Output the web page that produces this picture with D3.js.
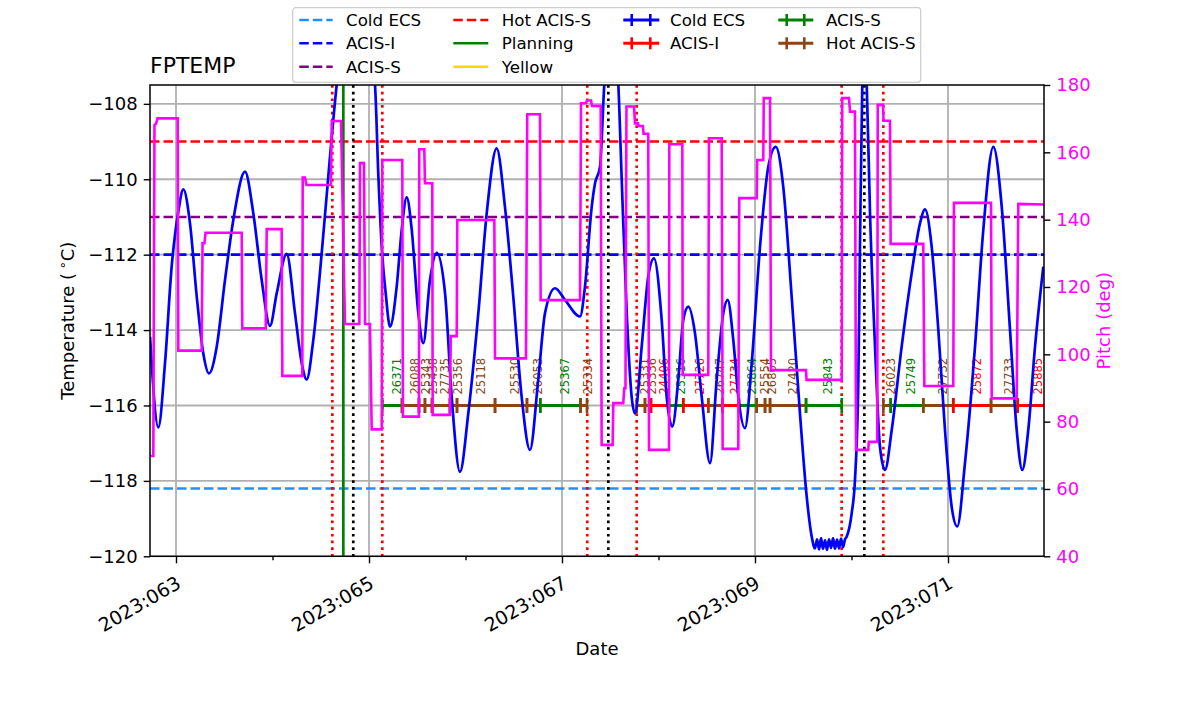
<!DOCTYPE html>
<html>
<head>
<meta charset="utf-8">
<script src="https://cdn.jsdelivr.net/npm/d3@7"></script>
<style>
body { margin: 0; background: #fff; }
text { font-family: "DejaVu Sans", sans-serif; }
</style>
</head>
<body>
<svg id="chart" width="1200" height="714"></svg>
<script>
// ---- data (day of year 2023) ----
var dayRange = [62.7306, 71.995];
var tempRange = [-120, -107.5];
var pitchRange = [40, 180];
var majorDays = [63, 65, 67, 69, 71];
var minorDays = [64, 66, 68, 70];
var tempTicks = [-120, -118, -116, -114, -112, -110, -108];
var pitchTicks = [40, 60, 80, 100, 120, 140, 160, 180];

var limitNames = ["Cold ECS", "ACIS-I", "ACIS-S", "Hot ACIS-S"];
var limitValues = [-118.2, -112, -111, -109];
var limitColors = ["dodgerblue", "blue", "purple", "red"];

var radzoneDays = [64.620, 65.138, 67.262, 67.774, 69.898, 70.330];
var perigeeDays = [64.837, 67.480, 70.133];
var planningDays = [64.734];

var instrNames = ["Cold ECS", "ACIS-I", "ACIS-S", "Hot ACIS-S"];
var instrColors = ["blue", "red", "green", "saddlebrown"];
var obsLevel = -116;

var obsids = [26371, 26088, 25343, 25438, 27735, 25356, 25118, 25530, 26053, 25367,
  25334, 25331, 25336, 24406, 25316, 27726, 26747, 27734, 23864, 25554,
  26865, 27420, 25843, 26023, 25749, 27732, 25872, 27733, 25885];
var obsInstr = ["ACIS-S", "Hot ACIS-S", "Hot ACIS-S", "Hot ACIS-S", "Hot ACIS-S", "Hot ACIS-S", "Hot ACIS-S", "Hot ACIS-S", "Hot ACIS-S", "ACIS-S",
  "Hot ACIS-S", "Hot ACIS-S", "Hot ACIS-S", "ACIS-I", "ACIS-S", "ACIS-I", "Hot ACIS-S", "ACIS-I", "ACIS-S", "Hot ACIS-S",
  "Hot ACIS-S", "Hot ACIS-S", "ACIS-S", "Hot ACIS-S", "ACIS-S", "Hot ACIS-S", "ACIS-I", "Hot ACIS-S", "ACIS-I"];
var obsStart = [65.138, 65.342, 65.518, 65.580, 65.653, 65.839, 65.912, 66.306, 66.637, 66.775,
  67.192, 67.774, 67.860, 67.922, 68.109, 68.257, 68.516, 68.661, 68.834, 69.018,
  69.104, 69.156, 69.529, 70.330, 70.406, 70.744, 71.055, 71.446, 71.722];
var obsStop = [65.342, 65.518, 65.580, 65.653, 65.839, 65.912, 66.306, 66.637, 66.775, 67.192,
  67.259, 67.860, 67.922, 68.109, 68.257, 68.516, 68.661, 68.834, 69.018, 69.104,
  69.156, 69.529, 69.899, 70.406, 70.744, 71.055, 71.446, 71.722, 72.057];

// FPTEMP model, [day, degC]
var tempPoints = [
  [62.731,-114.18],[62.817,-116.58],[62.886,-114.88],[62.955,-112.32],[63.024,-110.86],[63.076,-110.27],
  [63.145,-111.17],[63.215,-113.11],[63.283,-114.62],[63.342,-115.15],[63.422,-114.44],[63.508,-112.67],
  [63.594,-111.08],[63.715,-109.80],[63.801,-110.90],[63.888,-112.67],[63.974,-113.89],[64.044,-113.02],
  [64.147,-111.98],[64.233,-113.55],[64.303,-114.88],[64.354,-115.31],[64.423,-114.26],[64.510,-111.96],
  [64.596,-109.40],[64.665,-107.50],[64.865,-104.50],[65.062,-107.50],[65.096,-109.84],[65.132,-111.79],
  [65.173,-113.02],[65.218,-113.91],[65.287,-112.85],[65.339,-111.34],[65.391,-110.48],[65.443,-111.34],
  [65.511,-113.55],[65.563,-114.35],[65.632,-112.67],[65.702,-111.95],[65.788,-113.02],[65.857,-115.77],
  [65.943,-117.76],[66.029,-116.21],[66.133,-113.55],[66.220,-110.90],[66.323,-109.18],[66.409,-110.73],
  [66.495,-113.11],[66.582,-115.77],[66.668,-117.18],[66.754,-115.32],[66.824,-113.55],[66.928,-112.89],
  [67.031,-113.20],[67.187,-113.64],[67.238,-112.85],[67.308,-110.73],[67.342,-110.11],[67.394,-109.67],
  [67.438,-107.50],[67.508,-105.50],[67.584,-107.50],[67.619,-110.02],[67.671,-113.55],[67.722,-115.77],
  [67.757,-116.21],[67.826,-114.44],[67.894,-112.58],[67.953,-112.10],[68.033,-113.73],[68.085,-115.77],
  [68.143,-116.56],[68.205,-115.32],[68.257,-113.73],[68.309,-113.38],[68.378,-114.08],[68.448,-115.77],
  [68.534,-117.53],[68.603,-115.32],[68.672,-113.55],[68.717,-113.20],[68.775,-114.26],[68.827,-115.77],
  [68.896,-116.60],[68.966,-114.88],[69.052,-111.79],[69.138,-109.67],[69.215,-109.14],[69.293,-110.20],
  [69.380,-113.11],[69.466,-116.21],[69.536,-118.42],[69.588,-119.48],[69.622,-119.79],
  [69.643,-119.55],[69.664,-119.82],[69.684,-119.52],[69.705,-119.80],[69.726,-119.58],[69.746,-119.83],
  [69.767,-119.55],[69.788,-119.78],[69.809,-119.52],[69.829,-119.80],[69.850,-119.56],[69.871,-119.79],
  [69.891,-119.53],[69.912,-119.76],[69.933,-119.55],
  [69.950,-119.48],[70.002,-118.86],[70.036,-117.98],[70.071,-115.32],[70.088,-111.79],[70.112,-107.50],
  [70.135,-106.50],[70.158,-107.50],[70.192,-110.90],[70.244,-114.44],[70.295,-117.09],[70.347,-117.71],
  [70.417,-116.65],[70.520,-114.44],[70.624,-112.49],[70.710,-111.17],[70.762,-110.80],[70.831,-111.79],
  [70.900,-114.00],[70.969,-116.65],[71.038,-118.68],[71.096,-119.21],[71.176,-117.53],[71.280,-114.44],
  [71.366,-111.34],[71.470,-109.14],[71.557,-110.73],[71.643,-114.00],[71.712,-116.65],[71.770,-117.71],
  [71.832,-116.65],[71.902,-114.44],[71.988,-112.32]
];

// pitch, [day, deg]
var pitchPoints = [
  [62.731,69.8],[62.765,69.8],[62.777,168.1],[62.793,168.5],[62.808,170.1],[63.018,170.1],[63.024,101.1],
  [63.266,101.1],[63.275,133],[63.295,133],[63.306,136.1],[63.681,136.1],[63.687,107.7],[63.930,107.7],
  [63.940,137.2],[64.095,137.2],[64.102,93.6],[64.309,93.6],[64.313,152.5],[64.337,152.5],[64.352,150.3],
  [64.606,150.3],[64.614,169.3],[64.710,169.3],[64.751,109],[64.900,109],[64.907,156.8],[64.948,156.8],
  [64.959,109],[65.010,109],[65.028,77.7],[65.132,77.7],[65.138,157.7],[65.345,157.7],[65.352,81.5],
  [65.518,81.5],[65.521,160.9],[65.573,160.9],[65.580,150.8],[65.656,150.8],[65.660,82],[65.839,82],
  [65.847,105.4],[65.909,105.4],[65.915,139.9],[66.299,139.9],[66.306,98.8],[66.627,98.8],[66.640,171.3],
  [66.772,171.3],[66.779,116.1],[67.187,116.1],[67.197,174.6],[67.249,174.6],[67.259,175.4],[67.301,175.4],
  [67.311,173.8],[67.401,173.8],[67.411,73.1],[67.525,73.1],[67.532,85.5],[67.635,85.5],[67.646,89.9],
  [67.658,89.9],[67.668,173.6],[67.746,173.6],[67.757,168.6],[67.788,168.6],[67.793,167.8],[67.839,167.8],
  [67.845,165.5],[67.894,165.5],[67.902,71.6],[68.109,71.6],[68.112,162.4],[68.247,162.4],[68.251,93.9],
  [68.516,93.9],[68.523,164.2],[68.655,164.2],[68.665,71.9],[68.827,71.9],[68.837,146.4],[69.018,146.4],
  [69.023,157.7],[69.086,157.7],[69.091,176.1],[69.156,176.1],[69.166,95.3],[69.529,95.3],[69.534,92.4],
  [69.899,92.4],[69.904,176.1],[69.974,176.1],[69.985,172.1],[70.036,172.1],[70.047,71.6],[70.174,71.6],
  [70.179,74],[70.267,74],[70.272,174.1],[70.327,174.1],[70.332,169.4],[70.399,169.4],[70.406,132.8],
  [70.744,132.8],[70.755,90.6],[71.055,90.6],[71.062,145],[71.446,145],[71.453,86.9],[71.712,86.9],
  [71.729,144.7],[71.995,144.5]
];

// ---- drawing ----
var svg = d3.select("#chart");
var plotLeft = 150, plotRight = 1044, plotTop = 85, plotBottom = 556.3;

var xScaled = d3.scaleLinear().domain(dayRange).range([plotLeft, plotRight]);
var yTemp = d3.scaleLinear().domain(tempRange).range([plotBottom, plotTop]);
var yPitch = d3.scaleLinear().domain(pitchRange).range([plotBottom, plotTop]);
var instrColor = d3.scaleOrdinal().domain(instrNames).range(instrColors);

svg.append("clipPath").attr("id", "plotclip")
  .append("rect").attr("x", plotLeft).attr("y", plotTop)
  .attr("width", plotRight - plotLeft).attr("height", plotBottom - plotTop);

var plot = svg.append("g").attr("clip-path", "url(#plotclip)");

// grid
plot.selectAll(".vgrid").data(majorDays).enter().append("line")
  .attr("x1", function(d) { return xScaled(d); })
  .attr("x2", function(d) { return xScaled(d); })
  .attr("y1", plotTop).attr("y2", plotBottom)
  .attr("stroke", "#b0b0b0").attr("stroke-width", 1.8);
plot.selectAll(".hgrid").data(tempTicks).enter().append("line")
  .attr("x1", plotLeft).attr("x2", plotRight)
  .attr("y1", function(d) { return yTemp(d); })
  .attr("y2", function(d) { return yTemp(d); })
  .attr("stroke", "#b0b0b0").attr("stroke-width", 1.8);

// limit lines
plot.selectAll(".limit").data(limitValues).enter().append("line")
  .attr("x1", plotLeft).attr("x2", plotRight)
  .attr("y1", function(d) { return yTemp(d); })
  .attr("y2", function(d) { return yTemp(d); })
  .attr("stroke", function(d, i) { return limitColors[i]; })
  .attr("stroke-width", 2.6)
  .attr("stroke-dasharray", "9.5,4");

// vertical markers
var vline = function(days, color, dash) {
  plot.selectAll(null).data(days).enter().append("line")
    .attr("x1", function(d) { return xScaled(d); })
    .attr("x2", function(d) { return xScaled(d); })
    .attr("y1", plotTop).attr("y2", plotBottom)
    .attr("stroke", color).attr("stroke-width", 2.7)
    .attr("stroke-dasharray", dash);
};
vline(radzoneDays, "red", "2.7,4");
vline(perigeeDays, "black", "2.7,4");
vline(planningDays, "green", null);

// obsid segments
var obs = obsids.map(function(id, i) {
  return {id: id, instr: obsInstr[i], start: obsStart[i], stop: obsStop[i]};
});
var yObs = yTemp(obsLevel);
plot.selectAll(".seg").data(obs).enter().append("line")
  .attr("x1", function(d) { return xScaled(d.start); })
  .attr("x2", function(d) { return xScaled(d.stop); })
  .attr("y1", yObs).attr("y2", yObs)
  .attr("stroke", function(d) { return instrColor(d.instr); })
  .attr("stroke-width", 3);
var ends = [];
obs.forEach(function(d) { ends.push([d.start, d.instr]); ends.push([d.stop, d.instr]); });
plot.selectAll(".tick-end").data(ends).enter().append("line")
  .attr("x1", function(d) { return xScaled(d[0]); })
  .attr("x2", function(d) { return xScaled(d[0]); })
  .attr("y1", yObs - 7.5).attr("y2", yObs + 7.5)
  .attr("stroke", function(d) { return instrColor(d[1]); })
  .attr("stroke-width", 2.6);
plot.selectAll(".obslabel").data(obs).enter().append("text")
  .attr("transform", function(d) {
    var xm = xScaled((d.start + d.stop) / 2) + 8.5;
    return "translate(" + xm + "," + (yObs - 11) + ") rotate(-90)";
  })
  .attr("font-size", 11.5)
  .attr("fill", function(d) { return instrColor(d.instr); })
  .text(function(d) { return d.id; });

// temperature
var tempLine = d3.line()
  .x(function(d) { return xScaled(d[0]); })
  .y(function(d) { return yTemp(d[1]); })
  .curve(d3.curveMonotoneX);
plot.append("path").datum(tempPoints)
  .attr("d", tempLine)
  .attr("fill", "none").attr("stroke", "blue").attr("stroke-width", 2.7);

// pitch
var pitchLine = d3.line()
  .x(function(d) { return xScaled(d[0]); })
  .y(function(d) { return yPitch(d[1]); });
plot.append("path").datum(pitchPoints)
  .attr("d", pitchLine)
  .attr("fill", "none").attr("stroke", "magenta").attr("stroke-width", 2.6);

// frame
svg.append("rect").attr("x", plotLeft).attr("y", plotTop)
  .attr("width", plotRight - plotLeft).attr("height", plotBottom - plotTop)
  .attr("fill", "none").attr("stroke", "black").attr("stroke-width", 1.5);

// axes
var styleAxis = function(g) {
  g.select(".domain").remove();
  g.selectAll(".tick line").attr("stroke", "black").attr("stroke-width", 1.4);
  g.selectAll("text").attr("font-size", 18).attr("font-family", "DejaVu Sans").attr("fill", "black");
};

var xAxis = d3.axisBottom(xScaled).tickValues(majorDays).tickSize(7).tickSizeOuter(0)
  .tickFormat(function(d) { return "2023:0" + d; });
var gx = svg.append("g").attr("transform", "translate(0," + plotBottom + ")").call(xAxis).call(styleAxis);
gx.selectAll("text")
  .attr("font-size", 19)
  .attr("x", 0).attr("y", 0).attr("dy", "0.71em")
  .attr("text-anchor", "end")
  .attr("transform", "translate(-1,19) rotate(-30)");
svg.append("g").attr("transform", "translate(0," + plotBottom + ")")
  .call(d3.axisBottom(xScaled).tickValues(minorDays).tickSize(4).tickSizeOuter(0).tickFormat(""))
  .call(styleAxis);

var yAxis = d3.axisLeft(yTemp).tickValues(tempTicks).tickSize(6.3).tickPadding(6).tickSizeOuter(0);
svg.append("g").attr("transform", "translate(" + plotLeft + ",0)").call(yAxis).call(styleAxis);

var pAxis = d3.axisRight(yPitch).tickValues(pitchTicks).tickSize(6.3).tickPadding(6).tickSizeOuter(0);
var gp = svg.append("g").attr("transform", "translate(" + plotRight + ",0)").call(pAxis).call(styleAxis);
gp.selectAll("text").attr("fill", "magenta");

// titles
svg.append("text").attr("x", plotLeft).attr("y", 73)
  .attr("font-size", 22).text("FPTEMP");
var ylab = svg.append("text")
  .attr("transform", "translate(74," + ((plotTop + plotBottom) / 2) + ") rotate(-90)")
  .attr("text-anchor", "middle").attr("font-size", 18);
ylab.append("tspan").text("Temperature (\u2009");
ylab.append("tspan").attr("font-size", 13).attr("dy", -7).text("\u2218");
ylab.append("tspan").attr("dy", 7).text("C)");
svg.append("text")
  .attr("transform", "translate(1110," + ((plotTop + plotBottom) / 2) + ") rotate(-90)")
  .attr("text-anchor", "middle").attr("font-size", 18).attr("fill", "magenta")
  .text("Pitch (deg)");
svg.append("text").attr("x", (plotLeft + plotRight) / 2).attr("y", 655)
  .attr("text-anchor", "middle").attr("font-size", 18).text("Date");

// legend
var legendRows = [20, 43.3, 66.7];
var legend = svg.append("g");
legend.append("rect").attr("x", 292.7).attr("y", 7.7).attr("width", 628).attr("height", 74.6)
  .attr("rx", 3).attr("fill", "white").attr("fill-opacity", 0.8)
  .attr("stroke", "#cccccc").attr("stroke-width", 1.2);

var legendItems = [];
limitNames.forEach(function(n, i) { legendItems.push({name: n, color: limitColors[i], kind: "dash"}); });
legendItems.push({name: "Planning", color: "green", kind: "solid"});
legendItems.push({name: "Yellow", color: "gold", kind: "solid"});
instrNames.forEach(function(n, i) { legendItems.push({name: n, color: instrColors[i], kind: "obs"}); });

var colX = [299.3, 453.3, 623.3, 778.3];
var colText = [346, 501.7, 670, 826];
var colLen = [33.4, 35, 36, 35];
legendItems.forEach(function(it, i) {
  var col = Math.floor(i / 3), row = i % 3;
  if (i >= 6) { col = 2 + Math.floor((i - 6) / 2); row = (i - 6) % 2; }
  var y = legendRows[row], x0 = colX[col], x1 = colX[col] + colLen[col];
  legend.append("line").attr("x1", x0).attr("x2", x1).attr("y1", y).attr("y2", y)
    .attr("stroke", it.color).attr("stroke-width", it.kind === "obs" ? 3 : 2.6)
    .attr("stroke-dasharray", it.kind === "dash" ? "9.5,4" : null);
  if (it.kind === "obs") {
    [x0 + 8.4, x1 - 9].forEach(function(mx) {
      legend.append("line").attr("x1", mx).attr("x2", mx).attr("y1", y - 6).attr("y2", y + 6)
        .attr("stroke", it.color).attr("stroke-width", 2.6);
    });
  }
  legend.append("text").attr("x", colText[col]).attr("y", y)
    .attr("dominant-baseline", "central").attr("font-size", 16.7).text(it.name);
});
</script>
</body>
</html>
